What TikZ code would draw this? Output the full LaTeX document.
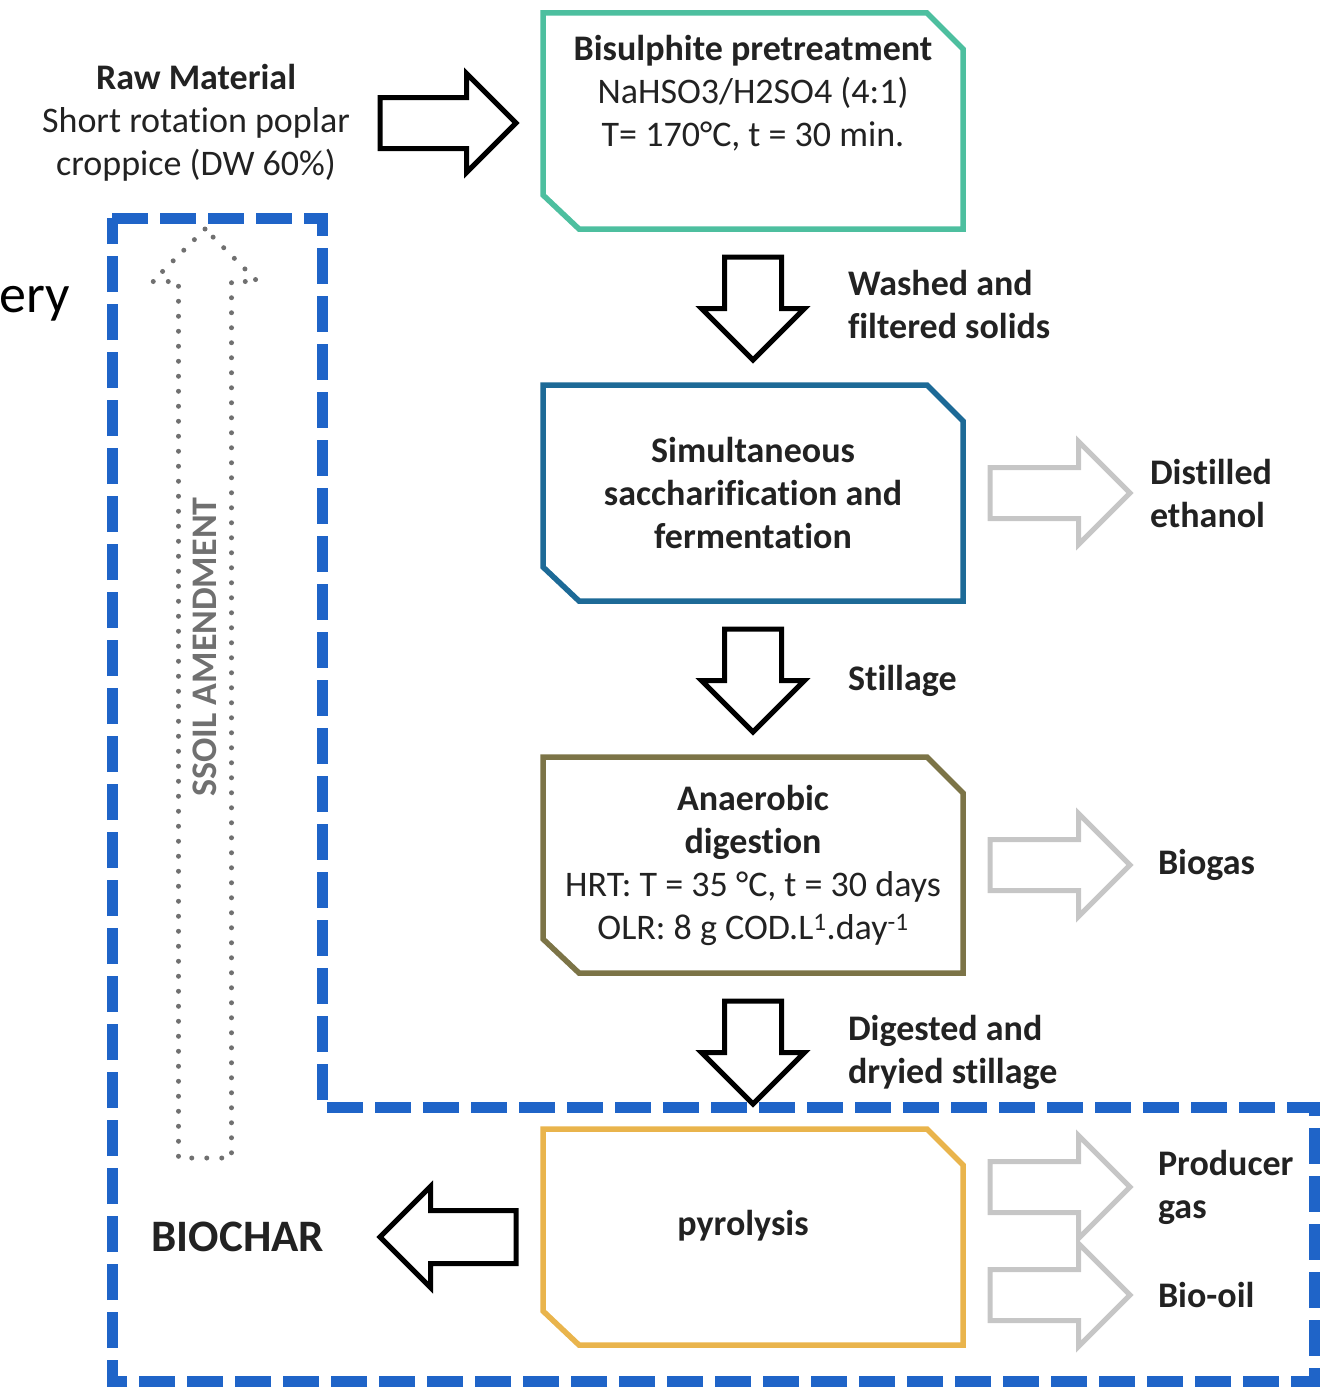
\documentclass[tikz,border=0pt]{standalone}
\usepackage{fontspec}
\setmainfont{Carlito}[Ligatures=NoCommon]
\usetikzlibrary{positioning, shapes.arrows, calc}

\definecolor{ink}{HTML}{222222}
\definecolor{cteal}{HTML}{4DBF9F}
\definecolor{cblue}{HTML}{1D6A97}
\definecolor{colive}{HTML}{7C7447}
\definecolor{corange}{HTML}{E9B44C}
\definecolor{sidegray}{HTML}{C6C6C6}
\definecolor{dotgray}{HTML}{707070}
\definecolor{zoneblue}{HTML}{1F64C8}

\begin{document}
\begin{tikzpicture}[x=1pt, y=-1pt,
  txt/.style={font=\fontsize{36}{43}\selectfont, text=ink, inner sep=0pt, outer sep=0pt, align=center},
  btxt/.style={txt, font=\fontsize{36}{43}\selectfont\bfseries},
  box/.style={minimum width=420pt, minimum height=216pt, inner sep=0pt, outer sep=0pt},
  edge/.style={draw=#1, line width=5.5pt, line join=miter},
  blk/.style={single arrow, draw=black, line width=5pt, inner xsep=0pt, outer sep=0pt,
              inner ysep=23pt, single arrow head extend=24pt, minimum height=136pt},
  down/.style={blk, rotate=-90, inner ysep=26pt, single arrow head extend=23pt, minimum height=103pt},
  side/.style={blk, draw=sidegray, inner ysep=23pt, single arrow head extend=26pt, minimum height=140pt},
  soilarr/.style={single arrow, draw=dotgray, line width=5pt, dash pattern=on 0pt off 15pt,
              line cap=round, rotate=90, inner xsep=0pt, outer sep=0pt, inner ysep=24pt,
              single arrow head extend=26pt, minimum height=929pt},
  zone/.style={draw=zoneblue, line width=11pt, dash pattern=on 36pt off 12pt},
  node distance=156pt
]
  \useasboundingbox (0,0) rectangle (1320,1389);

  % recovery zone
  \draw[zone] (112,218) -- (322,218) -- (322,1107) -- (1314,1107) -- (1314,1381) -- (112,1381) -- cycle;
  \node[txt, font=\fontsize{54}{60}\selectfont, text=black, anchor=base east] (ery) at (70,312) {ery};

  % process boxes
  \node[box] (bis) at (753,121) {};
  \node[box, btxt, below=of bis] (ssf) {Simultaneous\\saccharification and\\fermentation};
  \node[box, txt, below=of ssf] (ad) {\textbf{Anaerobic}\\\textbf{digestion}\\HRT: T = 35 °C, t = 30 days\\OLR: 8 g COD.L\textsuperscript{1}.day\textsuperscript{-1}};
  \node[box, below=of ad] (pyr) {};
  \node[txt] (bistxt) at ([yshift=28pt]bis.center) {\textbf{Bisulphite pretreatment}\\NaHSO3/H2SO4 (4:1)\\T= 170°C, t = 30 min.};
  \node[btxt] (pyrtxt) at ([xshift=-10pt,yshift=11pt]pyr.center) {pyrolysis};

  \foreach \b/\c in {bis/cteal, ssf/cblue, ad/colive, pyr/corange}
    \draw[edge=\c] (\b.north west) -- ([xshift=-36pt]\b.north east) -- ([yshift=-36pt]\b.north east)
      -- (\b.south east) -- ([xshift=36pt]\b.south west) -- ([yshift=34pt]\b.south west) -- cycle;

  % raw material
  \node[blk, anchor=tip] (r1) at ([xshift=-27pt,yshift=-2pt]bis.west) {};
  \node[txt, left=30pt of r1.tail] (raw) {\textbf{Raw Material}\\Short rotation poplar\\croppice (DW 60\%)};

  % main line
  \node[down, anchor=tail] (a1) at ([yshift=-28pt]bis.south) {};
  \node[down, anchor=tail] (a2) at ([yshift=-28pt]ssf.south) {};
  \node[down, anchor=tail] (a3) at ([yshift=-28pt]ad.south) {};
  \node[btxt, align=left, anchor=west] (l1) at ($(a1.tail)!0.5!(a1.tip)+(95,-4)$) {Washed and\\filtered solids};
  \node[btxt, anchor=west] (l2) at ($(a2.tail)!0.5!(a2.tip)+(95,0)$) {Stillage};
  \node[btxt, align=left, anchor=west] (l3) at ($(a3.tail)!0.5!(a3.tip)+(95,0)$) {Digested and\\dryied stillage};

  % products
  \node[side, anchor=tail] (s1) at ([xshift=27pt]ssf.east) {};
  \node[side, anchor=tail] (s2) at ([xshift=27pt]ad.east) {};
  \node[side, anchor=tail] (s3) at ([xshift=27pt,yshift=50pt]pyr.east) {};
  \node[side, anchor=tail] (s4) at ([xshift=27pt,yshift=-58pt]pyr.east) {};
  \node[btxt, align=left, right=20pt of s1.tip] (e1) {Distilled\\ethanol};
  \node[btxt, right=28pt of s2.tip] (e2) {Biogas};
  \node[btxt, align=left, right=28pt of s3.tip] (e3) {Producer\\gas};
  \node[btxt, right=28pt of s4.tip] (e4) {Bio-oil};

  % biochar back to soil
  \node[blk, rotate=180, anchor=tail, inner ysep=24pt] (b1) at ([xshift=-27pt]pyr.west) {};
  \node[btxt, font=\fontsize{45}{54}\selectfont\bfseries, left=56pt of b1.tip] (char) {BIOCHAR};
  \node[soilarr, anchor=tail] (soil) at (205,1158) {};
  \node[btxt, text=dotgray, rotate=90] (soiltxt) at ($(soil.tail)!0.55!(soil.tip)$) {SSOIL AMENDMENT};
\end{tikzpicture}
\end{document}
